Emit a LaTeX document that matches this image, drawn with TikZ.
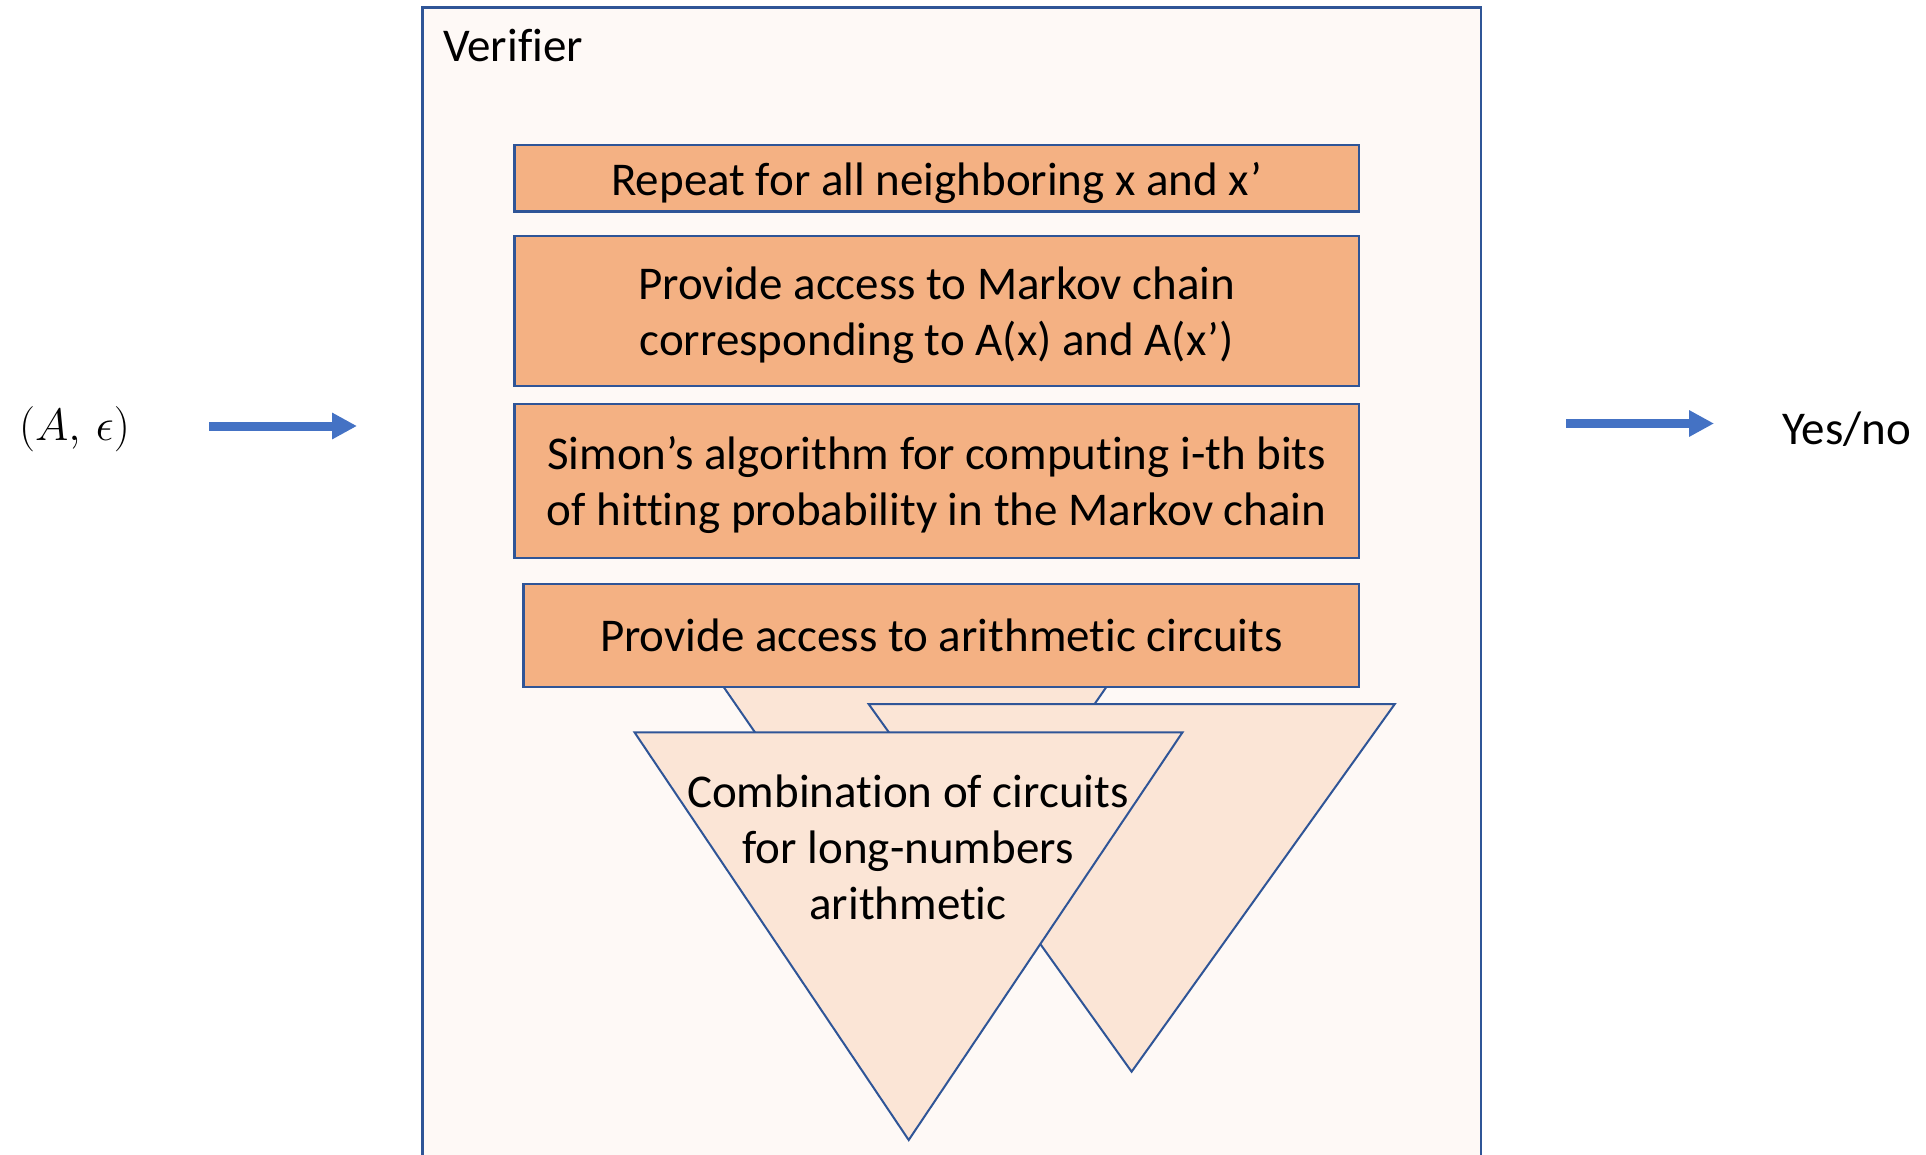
\documentclass[tikz,border=0pt]{standalone}
\usepackage{graphicx}
\usepackage{fontspec}
\setmainfont{Carlito}[Ligatures=NoCommon]
\usetikzlibrary{arrows.meta}
\definecolor{frameblue}{HTML}{2F5597}
\definecolor{arrowblue}{HTML}{4472C4}
\definecolor{stepfill}{HTML}{F4B183}
\definecolor{trifill}{HTML}{FBE5D6}
\definecolor{panelfill}{HTML}{FEF9F6}
\begin{document}
\begin{tikzpicture}[x=1pt,y=-1pt,
  stepbox/.style={draw=frameblue, line width=2.5pt, fill=stepfill, inner sep=0pt},
  tri/.style={draw=frameblue, line width=2pt, fill=trifill, line join=miter},
  flow/.style={arrowblue, line width=9pt, -{Triangle[length=25pt,width=25pt]}},
  lbl/.style={inner sep=0pt, font=\fontsize{47}{56}\selectfont, align=center}
]
\useasboundingbox (0,0) rectangle (1926,1155);
\clip (0,0) rectangle (1926,1155);

% verifier panel
\draw[draw=frameblue, line width=2.5pt, fill=panelfill] (422.5,7.5) rectangle (1481,1200);
\node[lbl, anchor=base west] (title) at (443,61.5) {Verifier};

% processing steps
\node[stepbox, minimum width=844.5pt, minimum height=66.5pt] (repeat) at (936.75,178.25) {};
\node[lbl] (repeatText) at ([yshift=-5pt]repeat.center)
  {Repeat for all neighboring x and x’};
\node[stepbox, minimum width=844.5pt, minimum height=150pt] (markov) at (936.75,311) {};
\node[lbl] (markovText) at ([yshift=-4pt]markov.center)
  {Provide access to Markov chain\\corresponding to A(x) and A(x’)};
\node[stepbox, minimum width=844.5pt, minimum height=154pt] (simon) at (936.75,481) {};
\node[lbl] (simonText) at ([yshift=-4pt]simon.center)
  {Simon’s algorithm for computing i-th bits\\of hitting probability in the Markov chain};

% stacked circuit triangles
\draw[tri] (698.1,650) -- (1131.9,650) -- (915,964) -- cycle;
\node[stepbox, minimum width=835.4pt, minimum height=103pt] (arith) at (941.3,635.5) {};
\node[lbl] (arithText) at (arith.center) {Provide access to arithmetic circuits};
\draw[tri] (868.6,704) -- (1394.8,704) -- (1131.6,1071.7) -- cycle;
\draw[tri] (634.5,732.3) -- (1182.5,732.3) -- (908.7,1140) -- cycle;
\node[lbl] (combo) at (908,847)
  {Combination of circuits\\for long-numbers\\arithmetic};

% input and output
\node[lbl, anchor=base west] (inp) at (19,440) {\scalebox{1.82}{$(A,\,\epsilon)$}};
\coordinate (inTail) at (209,426);
\coordinate (inTip) at (357,426);
\draw[flow] (inTail) -- (inTip);

\node[lbl, anchor=base west] (outp) at (1782,444) {Yes/no};
\coordinate (outTail) at (1566,423.5);
\coordinate (outTip) at (1714,423.5);
\draw[flow] (outTail) -- (outTip);
\end{tikzpicture}
\end{document}
